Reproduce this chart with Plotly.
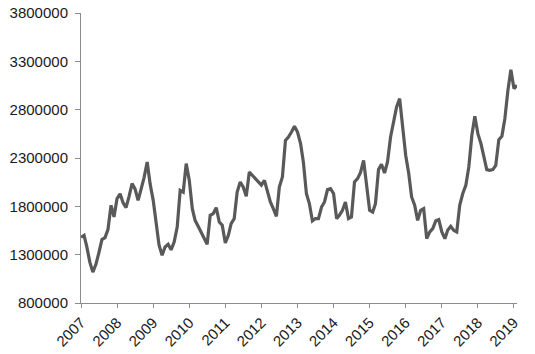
import pandas as pd
import plotly.graph_objects as go

start_month = "2007-01-01"
values = [
    1480000, 1500000, 1380000, 1220000, 1120000, 1200000, 1320000, 1456000,
    1476000, 1560000, 1811000, 1690000, 1880000, 1930000, 1840000, 1787000,
    1900000, 2035000, 1980000, 1862000, 1980000, 2100000, 2259000, 2030000,
    1862000, 1586000, 1400000, 1293000, 1380000, 1407000, 1350000, 1431000,
    1586000, 1966000, 1948000, 2242000, 2069000, 1776000, 1655000, 1593000,
    1530000, 1460000, 1407000, 1707000, 1725000, 1787000, 1638000, 1604000,
    1421000, 1500000, 1620000, 1673000, 1948000, 2052000, 2000000, 1904000,
    2155000, 2121000, 2090000, 2050000, 2020000, 2069000, 1966000, 1845000,
    1776000, 1697000, 2000000, 2104000, 2483000, 2517000, 2569000, 2628000,
    2569000, 2449000, 2259000, 1932000, 1828000, 1649000, 1673000, 1673000,
    1793000, 1845000, 1973000, 1983000, 1932000, 1673000, 1707000, 1759000,
    1845000, 1673000, 1690000, 2052000, 2087000, 2150000, 2276000, 2000000,
    1759000, 1741000, 1828000, 2180000, 2235000, 2145000, 2259000, 2517000,
    2690000, 2828000, 2914000, 2621000, 2328000, 2139000, 1897000, 1811000,
    1655000, 1759000, 1776000, 1466000, 1535000, 1569000, 1650000, 1662000,
    1535000, 1466000, 1552000, 1593000, 1552000, 1535000, 1811000, 1932000,
    2018000, 2207000, 2535000, 2731000, 2552000, 2449000, 2310000, 2180000,
    2173000, 2180000, 2224000, 2490000, 2524000, 2707000, 3000000, 3214000,
    3018000, 3052000,
]
dates = pd.date_range(start_month, periods=len(values), freq="MS")
y_ticks = [800000, 1300000, 1800000, 2300000, 2800000, 3300000, 3800000]

fig = go.Figure()
fig.add_trace(go.Scatter(x=dates, y=values, mode="lines",
                         line=dict(color="#595959", width=3.2), hoverinfo="skip"))

axis_color = "#8c8c8c"
font = dict(family="Liberation Sans", size=15, color="#1a1a1a")
fig.update_layout(
    width=535, height=354,
    margin=dict(l=81, r=18, t=13, b=51),
    paper_bgcolor="white", plot_bgcolor="white",
    showlegend=False,
    font=font,
)
fig.update_xaxes(
    type="date", range=["2007-01-01", "2019-02-01"],
    tick0="2007-01-01", dtick="M12", tickformat="%Y", tickangle=-45,
    showgrid=False, zeroline=False, automargin=False,
    showline=True, linecolor=axis_color, linewidth=1,
    ticks="outside", ticklen=4, tickcolor=axis_color,
    ticklabeloverflow="allow",
    tickfont=font,
)
fig.update_yaxes(
    range=[800000, 3800000], tickvals=y_ticks, tickformat="d",
    showgrid=False, zeroline=False, automargin=False,
    showline=True, linecolor=axis_color, linewidth=1,
    ticks="outside", ticklen=5, tickcolor=axis_color,
    ticklabelstandoff=4, ticklabeloverflow="allow",
    tickfont=font,
)
fig.write_html(
    "out.html",
    config={"displayModeBar": False, "staticPlot": True},
    post_script="document.body.style.margin='0';document.body.style.overflow='hidden';",
)
